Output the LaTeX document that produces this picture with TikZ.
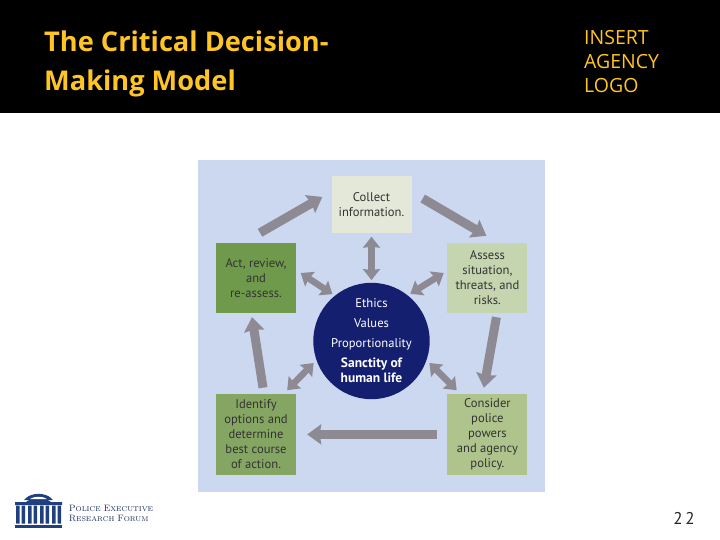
\documentclass[tikz,border=0pt]{standalone}
\usepackage{fontspec}
\setmainfont{PT Sans}
\newfontfamily\headfont{Open Sans}
\usetikzlibrary{positioning, arrows.meta}
\definecolor{bargold}{HTML}{FFC425}
\definecolor{panelblue}{HTML}{CBD8EF}
\definecolor{arrowgrey}{HTML}{8E8A94}
\definecolor{corenavy}{HTML}{141F6F}
\definecolor{logonavy}{HTML}{1F3F7F}
\begin{document}
\begin{tikzpicture}[
  x = 1pt, y = -1pt,
  node distance = 80.5pt and 151pt,
  stepbox/.style = {minimum width=80pt, minimum height=70pt, inner sep=0pt, align=center,
                    text=black!80, font=\fontsize{12.6pt}{15pt}\selectfont},
  flow/.style = {-{Stealth[length=14pt, width=20pt, inset=1.5pt]}, line width=9pt, arrowgrey},
  link/.style = {{Stealth[length=11pt, width=17pt, inset=1pt]}-{Stealth[length=11pt, width=17pt, inset=1pt]},
                 line width=6.5pt, arrowgrey},
  logotext/.style = {anchor=west, inner sep=0pt, text=logonavy!70!black,
                     font=\fontfamily{lmr}\fontsize{9.2pt}{10pt}\selectfont},
]
  \useasboundingbox (0,0) rectangle (720,540);
  \fill[black] (0,0) rectangle (720,113);
  \fill[panelblue] (198,160) rectangle (545,492);

  % header
  \node[anchor=west, inner sep=0pt, text=bargold, align=left,
        font=\headfont\bfseries\fontsize{27.2pt}{39pt}\selectfont] (title) at (44,64)
        {The Critical Decision-\\Making Model};
  \node[anchor=west, inner sep=0pt, text=bargold, align=left,
        font=\headfont\fontsize{19.5pt}{24pt}\selectfont] (logoslot) at (584,62)
        {INSERT\\AGENCY\\LOGO};

  % boxes
  \node[stepbox, fill={rgb,255:red,228;green,232;blue,216}, minimum height=57pt] (collect) at (371.5,204.5)
        {Collect\\information.};
  \node[stepbox, fill={rgb,255:red,111;green,154;blue,76}] (act) at (256,278)
        {Act, review,\\and\\re-assess.};
  \node[stepbox, fill={rgb,255:red,197;green,213;blue,176}, right=of act] (assess)
        {Assess\\situation,\\threats, and\\risks.};
  \node[stepbox, fill={rgb,255:red,133;green,166;blue,98}, minimum height=81pt, below=of act] (identify)
        {Identify\\options and\\determine\\best course\\of action.};
  \node[stepbox, fill={rgb,255:red,175;green,196;blue,141}, minimum height=81pt, right=of identify] (consider)
        {Consider\\police\\powers\\and agency\\policy.};

  \node[circle, fill=corenavy, minimum size=116pt, inner sep=0pt, align=center, text=white,
        font=\fontsize{12.6pt}{15pt}\selectfont] (core) at (371.5,341)
        {Ethics\\[5pt]Values\\[5pt]Proportionality\\[5pt]{\fontsize{13.5pt}{15pt}\selectfont\bfseries Sanctity of}\\{\fontsize{13.5pt}{15pt}\selectfont\bfseries human life}};

  % cycle
  \draw[flow] ([xshift=4pt, yshift=10pt]act.north) -- ([xshift=-9pt, yshift=7.5pt]collect.west);
  \draw[flow] ([xshift=11pt, yshift=6pt]collect.east) -- ([xshift=-1pt, yshift=7pt]assess.north);
  \draw[flow] ([xshift=9pt, yshift=-4pt]assess.south) -- ([xshift=-3.5pt, yshift=6pt]consider.north);
  \draw[flow] ([xshift=-10pt]consider.west) -- ([xshift=11pt]identify.east);
  \draw[flow] ([xshift=7pt, yshift=6pt]identify.north) -- ([xshift=-4pt, yshift=-4pt]act.south);

  % links to the centre
  \draw[link] ([yshift=-3.5pt]collect.south) -- ([yshift=2.5pt]core.north);
  \draw[link] ([xshift=4.5pt, yshift=5pt]act.east) -- ([xshift=3.7pt, yshift=7pt]core.137);
  \draw[link] ([xshift=-3.5pt, yshift=5pt]assess.west) -- ([xshift=-3.9pt, yshift=7.4pt]core.43);
  \draw[link] ([xshift=-9pt, yshift=3.5pt]identify.north east) -- ([xshift=-3pt, yshift=-2pt]core.200);
  \draw[link] ([xshift=9.5pt, yshift=3.5pt]consider.north west) -- ([xshift=3pt, yshift=-2pt]core.-20);

  % logo
  \fill[logonavy] (15,502) -- (26,502) .. controls (32,497) and (45,497) .. (51,502) -- (62,502) -- (62,505) -- (15,505) -- cycle;
  \fill[logonavy] (26,498) .. controls (32,492.5) and (45,492.5) .. (51,498) -- (53,500) -- (24,500) -- cycle;
  \fill[white] (30,499) .. controls (34,496) and (43,496) .. (47,499) -- cycle;
  \foreach \colx in {16,28,40,52}
    \fill[logonavy] (\colx,505.5) rectangle ++(3.5,18) (\colx+5.5,505.5) rectangle ++(3.5,18);
  \fill[logonavy] (15,525) rectangle (62,528);
  \node[logotext] (logotop) at (69,508) {P{\fontsize{7pt}{8pt}\selectfont OLICE} E{\fontsize{7pt}{8pt}\selectfont XECUTIVE}};
  \node[logotext] (logobottom) at (69,518.5) {R{\fontsize{7pt}{8pt}\selectfont ESEARCH} F{\fontsize{7pt}{8pt}\selectfont ORUM}};

  \node[inner sep=0pt, text=black!85, font=\fontsize{17pt}{17pt}\selectfont] (pageno) at (684,518) {2\kern2.5pt 2};
\end{tikzpicture}
\end{document}
